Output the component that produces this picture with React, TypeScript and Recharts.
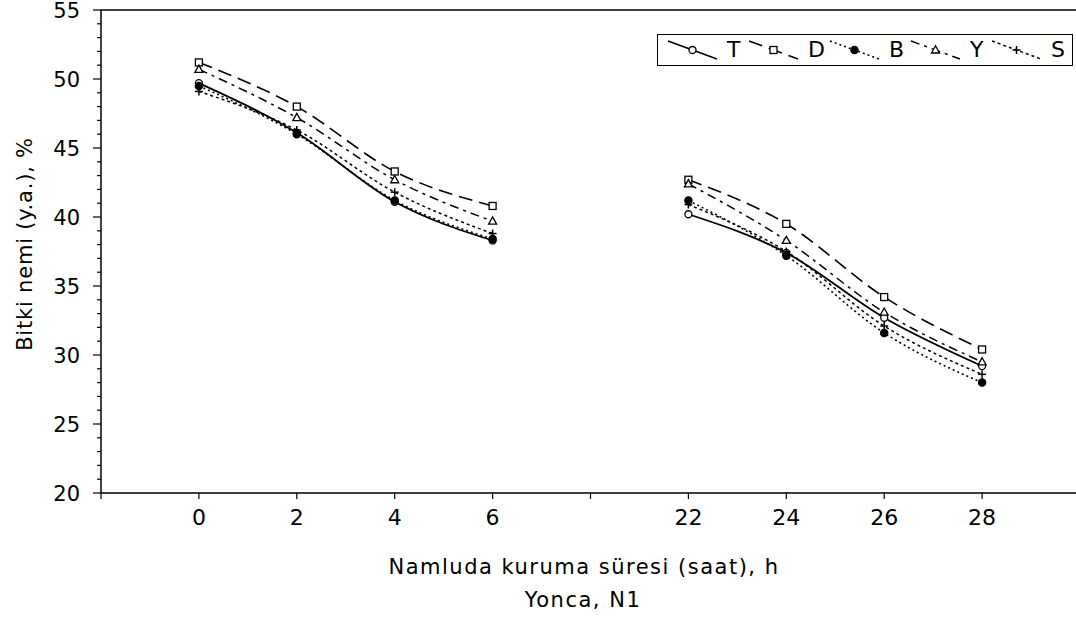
import React from 'react';
import { LineChart, Line, XAxis, YAxis, ReferenceLine } from 'recharts';

// x slots: blanks mark the axis ends and the break between 6 h and 22 h
const slotLabels = ['', '0', '2', '4', '6', '', '22', '24', '26', '28', ''];
const seriesT = [null, 49.7, 46.1, 41.1, 38.3, null, 40.2, 37.4, 32.7, 29.2, null];
const seriesD = [null, 51.2, 48.0, 43.3, 40.8, null, 42.7, 39.5, 34.2, 30.4, null];
const seriesB = [null, 49.5, 46.0, 41.2, 38.4, null, 41.2, 37.2, 31.6, 28.0, null];
const seriesY = [null, 50.7, 47.2, 42.7, 39.7, null, 42.4, 38.3, 33.1, 29.5, null];
const seriesS = [null, 49.1, 46.3, 41.8, 38.8, null, 40.9, 37.5, 32.1, 28.6, null];
const yTicks = [20, 21, 22, 23, 24, 25, 26, 27, 28, 29, 30, 31, 32, 33, 34, 35, 36, 37, 38, 39, 40, 41, 42, 43, 44, 45, 46, 47, 48, 49, 50, 51, 52, 53, 54, 55];
const seriesNames = ['T', 'D', 'B', 'Y', 'S'];

const data = slotLabels.map((label, i) => ({
  pos: i - 1,
  label,
  T: seriesT[i],
  D: seriesD[i],
  B: seriesB[i],
  Y: seriesY[i],
  S: seriesS[i],
}));
const xTicks = data.map((d) => d.pos);

const FONT = '"DejaVu Sans", "Liberation Sans", Arial, sans-serif';

type Shape = 'circle' | 'square' | 'filled' | 'triangle' | 'plus';

const styles: Record<string, { dash?: string; width: number; shape: Shape }> = {
  T: { width: 1.8, shape: 'circle' },
  D: { dash: '14 7', width: 1.6, shape: 'square' },
  B: { dash: '2 3', width: 1.6, shape: 'filled' },
  Y: { dash: '9 5 3 5', width: 1.5, shape: 'triangle' },
  S: { dash: '3 3', width: 1.5, shape: 'plus' },
};

function Marker({ shape, cx, cy }: { shape: Shape; cx: number; cy: number }) {
  const sw = 1.3;
  switch (shape) {
    case 'circle':
      return <circle cx={cx} cy={cy} r={3.5} fill="#fff" stroke="#000" strokeWidth={sw} />;
    case 'filled':
      return <circle cx={cx} cy={cy} r={3.6} fill="#000" stroke="#000" strokeWidth={sw} />;
    case 'square':
      return <rect x={cx - 3.5} y={cy - 3.5} width={7} height={7} fill="#fff" stroke="#000" strokeWidth={sw} />;
    case 'triangle':
      return (
        <polygon
          points={`${cx},${cy - 4.2} ${cx + 4},${cy + 3} ${cx - 4},${cy + 3}`}
          fill="#fff"
          stroke="#000"
          strokeWidth={sw}
        />
      );
    case 'plus':
      return (
        <g stroke="#000" strokeWidth={1.5}>
          <line x1={cx - 4} y1={cy} x2={cx + 4} y2={cy} />
          <line x1={cx} y1={cy - 4} x2={cx} y2={cy + 4} />
        </g>
      );
  }
  return null;
}

const makeDot = (shape: Shape) => (props: any) => {
  const { cx, cy, value, index } = props;
  if (cx == null || cy == null || value == null || (Array.isArray(value) && value[1] == null)) {
    return <g key={`e-${index}`} />;
  }
  return (
    <g key={`d-${index}`}>
      <Marker shape={shape} cx={cx} cy={cy} />
    </g>
  );
};

const YTick = (props: any) => {
  const { x, y, payload } = props;
  const v = payload.value;
  const major = v % 5 === 0;
  return (
    <g>
      <line x1={x - (major ? 8 : 4)} y1={y} x2={x} y2={y} stroke="#000" strokeWidth={1.2} />
      {major && (
        <text x={x - 21} y={y} dy="0.36em" textAnchor="end" fontFamily={FONT} fontSize={21} fill="#000">
          {v}
        </text>
      )}
    </g>
  );
};

const LegendBox = () => (
  <div
    style={{
      position: 'absolute',
      left: 649,
      top: 34,
      boxSizing: 'border-box',
      width: 416,
      height: 32,
      border: '1.5px solid #000',
      background: '#fff',
      display: 'flex',
      alignItems: 'center',
      paddingLeft: 9,
      fontFamily: FONT,
      fontSize: 22,
      color: '#000',
    }}
  >
    {seriesNames.map((name) => {
      const st = styles[name];
      return (
        <div key={name} style={{ display: 'flex', alignItems: 'center', width: 81 }}>
          <svg width={52} height={26} style={{ display: 'block' }}>
            <line
              x1={1}
              y1={4}
              x2={50}
              y2={22}
              stroke="#000"
              strokeWidth={st.width}
              strokeDasharray={st.dash}
            />
            <Marker shape={st.shape} cx={25.5} cy={13} />
          </svg>
          <span style={{ marginLeft: 8, lineHeight: '22px' }}>{name}</span>
        </div>
      );
    })}
  </div>
);

const titleStyle: React.CSSProperties = {
  position: 'absolute',
  whiteSpace: 'nowrap',
  fontFamily: FONT,
  fontSize: 21,
  letterSpacing: 1.5,
  color: '#000',
  lineHeight: '24px',
};

export default function App() {
  return (
    <div
      style={{
        position: 'fixed',
        left: 8,
        top: 0,
        width: 1068,
        height: 627,
        overflow: 'hidden',
        background: '#fff',
      }}
    >
      <LineChart
        width={1080}
        height={618}
        data={data}
        margin={{ top: 10, right: 8, bottom: 0, left: 0 }}
        style={{ overflow: 'visible' }}
      >
        <XAxis
          dataKey="pos"
          type="number"
          domain={[-1, 9]}
          ticks={xTicks}
          interval={0}
          allowDataOverflow
          tickFormatter={(v: number) => slotLabels[v + 1]}
          height={125}
          tickSize={6}
          tickMargin={10}
          axisLine={{ stroke: '#000', strokeWidth: 1.5 }}
          tickLine={{ stroke: '#000', strokeWidth: 1.2 }}
          tick={{ fontFamily: FONT, fontSize: 22, fill: '#000' }}
        />
        <YAxis
          type="number"
          domain={[20, 55]}
          ticks={yTicks}
          interval={0}
          allowDataOverflow
          width={93}
          tickSize={0}
          tickMargin={0}
          tickLine={false}
          axisLine={{ stroke: '#000', strokeWidth: 1.5 }}
          tick={<YTick />}
        />
        <ReferenceLine y={55} stroke="#000" strokeWidth={1.5} />
        {seriesNames.map((name) => {
          const st = styles[name];
          return (
            <Line
              key={name}
              dataKey={name}
              type="monotone"
              stroke="#000"
              strokeWidth={st.width}
              strokeDasharray={st.dash}
              dot={makeDot(st.shape)}
              activeDot={false}
              connectNulls={false}
              isAnimationActive={false}
              legendType="none"
            />
          );
        })}
      </LineChart>
      <LegendBox />
      <div style={{ ...titleStyle, left: 576, top: 555, transform: 'translateX(-50%)' }}>
        Namluda kuruma süresi (saat), h
      </div>
      <div style={{ ...titleStyle, left: 575, top: 588, transform: 'translateX(-50%)' }}>
        Yonca, N1
      </div>
      <div
        style={{
          ...titleStyle,
          letterSpacing: 0.8,
          left: 17,
          top: 244,
          transform: 'translate(-50%, -50%) rotate(-90deg)',
        }}
      >
        Bitki nemi (y.a.), %
      </div>
    </div>
  );
}
